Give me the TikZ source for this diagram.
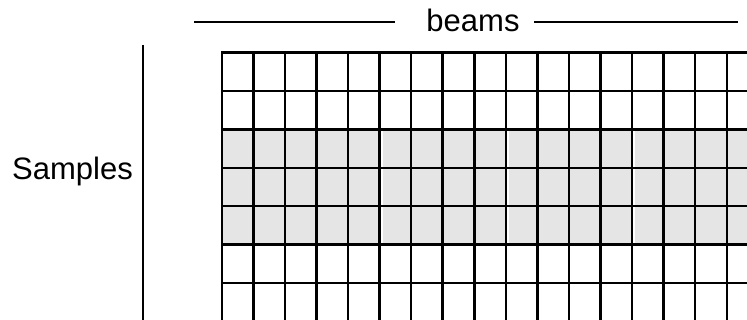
\documentclass[tikz,border=0pt]{standalone}
\usepackage{fontspec}
\setmainfont{Liberation Sans}
\begin{document}
\begin{tikzpicture}[x=1pt,y=-1pt,line width=2pt,
  lbl/.style={font=\fontsize{31}{37}\selectfont,inner sep=0pt,anchor=base},
  gridline/.style={line width=2.5pt,line cap=rect}]
\useasboundingbox (0,0) rectangle (747,320);
\clip (0,0) rectangle (747,320);
% labels
\node[lbl] (beams) at (473,32) {beams};
\node[lbl] (samples) at (72.5,180) {Samples};
% beams rules
\coordinate (bl1) at (194,22);
\coordinate (bl2) at (395,22);
\coordinate (br1) at (534,22);
\coordinate (br2) at (738,22);
\draw (bl1) -- (bl2);
\draw (br1) -- (br2);
% samples rule
\coordinate (st) at (143,45);
\coordinate (sb) at (143,330);
\draw (st) -- (sb);
% shaded band
\fill[black!10] (221.8,129.1) rectangle (770,245.2);
\foreach \k in {5,9,13}{
  \fill[white] ({221.8+\k*31.56+1.2},129.1) rectangle ({221.8+\k*31.56+2.9},245.2);
}
% grid
\foreach \k in {0,...,17}{
  \draw[gridline] ({221.8+\k*31.56},52.7) -- ({221.8+\k*31.56},340);
}
\foreach \j in {0,...,7}{
  \draw[gridline] (221.8,{52.7+\j*38.38}) -- (770,{52.7+\j*38.38});
}
\end{tikzpicture}
\end{document}
